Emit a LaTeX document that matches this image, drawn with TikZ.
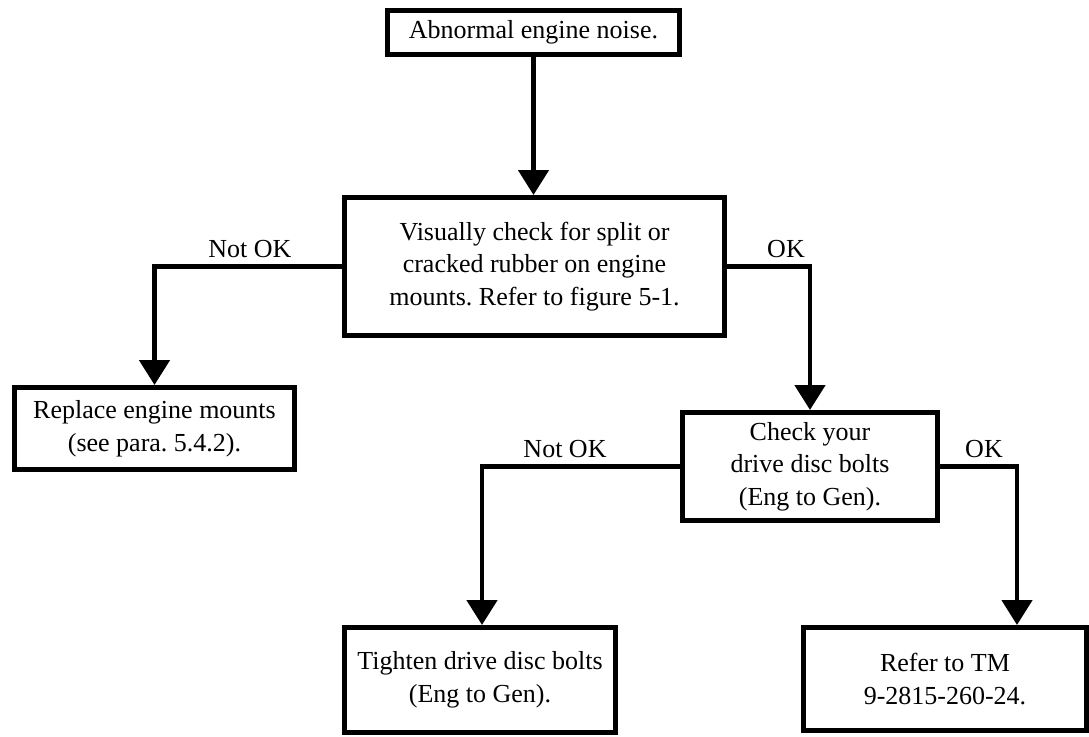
\documentclass[tikz,border=0pt]{standalone}
\usepackage{fontspec}
\setmainfont{Liberation Serif}
\usepackage{tikz}
\usetikzlibrary{arrows.meta,positioning}
\frenchspacing

\begin{document}
\begin{tikzpicture}[x=0.75pt, y=-0.75pt,
    every node/.style={font=\fontsize{19.5}{24.4}\selectfont},
    box/.style={draw, line width=3.75pt, align=center, inner sep=0pt},
    flow/.style={line width=3.6pt, -{Triangle[length=18.75pt, width=22.5pt]}},
    lbl/.style={anchor=base, inner sep=0pt}]
\useasboundingbox (0,0) rectangle (1089,736);

% Symptom
\node[box, minimum width=219pt, minimum height=33pt] (noise) at (533.5,32.5) {Abnormal engine noise.};

% Engine mounts check
\node[box, minimum width=285pt, minimum height=103.5pt] (mounts) at (534.5,266.5)
    {Visually check for split or\\cracked rubber on engine\\mounts. Refer to figure 5-1.};
\draw[flow] (noise.south) -- (noise.south |- mounts.north);

% Not OK branch
\node[box, minimum width=210pt, minimum height=61.5pt] (replace) at (154.5,428.5)
    {Replace engine mounts\\(see para. 5.4.2).};
\draw[flow] (mounts.west) -| (replace.north);
\node[lbl] (nok1) at (250,257) {Not OK};

% OK branch: drive disc bolts
\node[box, minimum width=191.25pt, minimum height=81pt] (bolts) at (810,466.5)
    {Check your\\drive disc bolts\\(Eng to Gen).};
\draw[flow] (mounts.east) -| (bolts.north);
\node[lbl] (ok1) at (786,257) {OK};

% Bolts not OK
\node[box, minimum width=203.25pt, minimum height=78.75pt] (tighten) at (480,680)
    {Tighten drive disc bolts\\(Eng to Gen).};
\draw[flow] (bolts.west) -| ([xshift=1.5pt]tighten.north);
\node[lbl] (nok2) at (565,457) {Not OK};

% Bolts OK
\node[box, minimum width=212.25pt, minimum height=77.25pt] (refer) at (945,679)
    {Refer to TM\\9-2815-260-24.};
\draw[flow] (bolts.east) -| ([xshift=54pt]refer.north);
\node[lbl] (ok2) at (984,457) {OK};
\end{tikzpicture}
\end{document}
